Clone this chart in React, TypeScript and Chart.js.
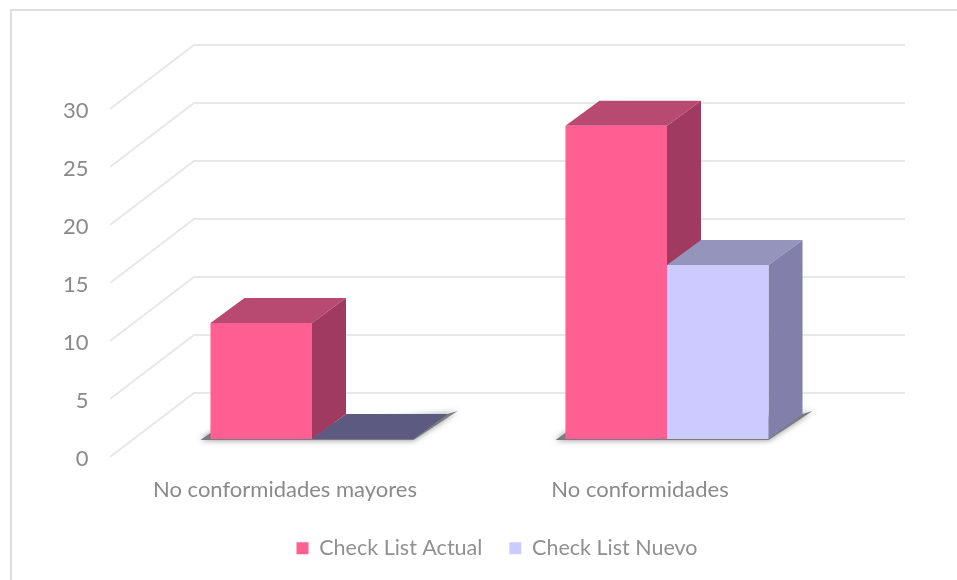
import React, { useEffect, useRef } from "react";
import { Chart, registerables } from "chart.js";

Chart.register(...registerables);

const categories = ["No conformidades mayores", "No conformidades"];
const checkListActual = [10, 27];
const checkListNuevo = [0, 15];
const seriesNames = ["Check List Actual", "Check List Nuevo"];

const frontColors = ["#ff5f92", "#cdcaff"];
const topColors = ["#b84a72", "#9594bd"];
const sideColors = ["#a13a60", "#8280ab"];
const emptyBarColor = "#5c5a80";

const FONT = "Lato, 'Open Sans', sans-serif";
const BAR_DEPTH = { x: 34, y: -25 };
const WALL = { frontX: 110, backX: 194, right: 905, frontDy: 18, backDy: -46 };

function polygon(ctx: CanvasRenderingContext2D, pts: number[][], fill: string) {
  ctx.beginPath();
  pts.forEach(([x, y], i) => (i ? ctx.lineTo(x, y) : ctx.moveTo(x, y)));
  ctx.closePath();
  ctx.fillStyle = fill;
  ctx.fill();
}

// Card outline, side wall and back wall gridlines, all hung off the y scale.
const wallPlugin = {
  id: "wall",
  beforeDraw(chart: any) {
    const { ctx } = chart;
    ctx.save();
    ctx.fillStyle = "#ffffff";
    ctx.fillRect(0, 0, chart.width, chart.height);
    ctx.strokeStyle = "#dedede";
    ctx.lineWidth = 2;
    ctx.beginPath();
    ctx.moveTo(11, 580);
    ctx.lineTo(11, 10);
    ctx.lineTo(957, 10);
    ctx.stroke();
    ctx.restore();
  },
  beforeDatasetsDraw(chart: any) {
    const { ctx, scales } = chart;
    ctx.save();
    ctx.strokeStyle = "#e8e8e8";
    ctx.lineWidth = 2;
    for (const tick of scales.y.ticks) {
      const y = scales.y.getPixelForValue(tick.value);
      ctx.beginPath();
      ctx.moveTo(WALL.frontX, y + WALL.frontDy);
      ctx.lineTo(WALL.backX, y + WALL.backDy);
      ctx.lineTo(WALL.right, y + WALL.backDy);
      ctx.stroke();
    }
    ctx.restore();
  },
};

// Extrudes each bar: floor shadow first, then top and side faces behind the fronts.
const extrudePlugin = {
  id: "extrude",
  beforeDatasetsDraw(chart: any) {
    const { ctx } = chart;
    const metas = chart.data.datasets.map((_: any, i: number) => chart.getDatasetMeta(i));
    const dx = BAR_DEPTH.x;
    const dy = BAR_DEPTH.y;

    categories.forEach((_, c) => {
      const first = metas[0].data[c];
      const last = metas[metas.length - 1].data[c];
      const left = first.x - first.width / 2;
      const right = last.x + last.width / 2;
      const base = first.base;
      ctx.save();
      ctx.shadowColor = "rgba(90,90,90,0.7)";
      ctx.shadowBlur = 6;
      polygon(
        ctx,
        [
          [left - 10, base + 1],
          [left, base - 6],
          [right + dx, base + dy],
          [right + dx + 10, base + dy - 3],
          [right, base + 1],
        ],
        "#7a7a80"
      );
      ctx.restore();
    });

    metas.forEach((meta: any, d: number) => {
      meta.data.forEach((bar: any, c: number) => {
        const l = bar.x - bar.width / 2;
        const r = bar.x + bar.width / 2;
        const t = bar.y;
        const b = bar.base;
        const empty = chart.data.datasets[d].data[c] === 0;
        polygon(
          ctx,
          [
            [l, t],
            [l + dx, t + dy],
            [r + dx, t + dy],
            [r, t],
          ],
          empty ? emptyBarColor : topColors[d]
        );
        if (!empty) {
          polygon(
            ctx,
            [
              [r, t],
              [r + dx, t + dy],
              [r + dx, b + dy],
              [r, b],
            ],
            sideColors[d]
          );
        }
      });
    });
  },
};

export default function App() {
  const ref = useRef<HTMLCanvasElement>(null);

  useEffect(() => {
    const chart = new Chart(ref.current!, {
      type: "bar",
      data: {
        labels: categories,
        datasets: [
          { label: seriesNames[0], data: checkListActual, backgroundColor: frontColors[0] },
          { label: seriesNames[1], data: checkListNuevo, backgroundColor: frontColors[1] },
        ],
      },
      options: {
        responsive: false,
        animation: false,
        layout: { padding: { top: 91, right: 0, bottom: 11, left: 37 } },
        datasets: { bar: { barPercentage: 1, categoryPercentage: 0.572, borderWidth: 0 } },
        scales: {
          x: {
            grid: { display: false, drawTicks: false },
            border: { display: false },
            afterFit: (s: any) => {
              s.height = 71.5;
            },
            ticks: {
              color: "#8a8a8a",
              padding: 38,
              labelOffset: -27,
              maxRotation: 0,
              autoSkip: false,
              font: { family: FONT, size: 22 },
            },
          },
          y: {
            min: 0,
            max: 30,
            grid: { display: false, drawTicks: false },
            border: { display: false },
            afterFit: (s: any) => {
              s.width = 97.5;
            },
            ticks: {
              stepSize: 5,
              color: "#8a8a8a",
              padding: 46,
              labelOffset: 20,
              font: { family: FONT, size: 22 },
            },
          },
          // Empty right gutter so the legend can centre across the full card.
          gutter: {
            position: "right",
            min: 0,
            max: 30,
            grid: { display: false, drawTicks: false },
            border: { display: false },
            ticks: { display: false },
            afterFit: (s: any) => {
              s.width = 112.5;
            },
          },
        },
        plugins: {
          title: { display: false },
          tooltip: { enabled: false },
          legend: {
            position: "bottom",
            labels: {
              usePointStyle: true,
              pointStyle: "rect",
              boxWidth: 12,
              boxHeight: 12,
              padding: 27,
              color: "#909090",
              font: { family: FONT, size: 21.5 },
            },
          },
        },
      },
      plugins: [wallPlugin, extrudePlugin],
    } as any);
    return () => chart.destroy();
  }, []);

  return (
    <div style={{ position: "absolute", left: 0, top: 0, width: 957, height: 580 }}>
      <canvas ref={ref} width={957} height={580} style={{ display: "block" }} />
    </div>
  );
}
